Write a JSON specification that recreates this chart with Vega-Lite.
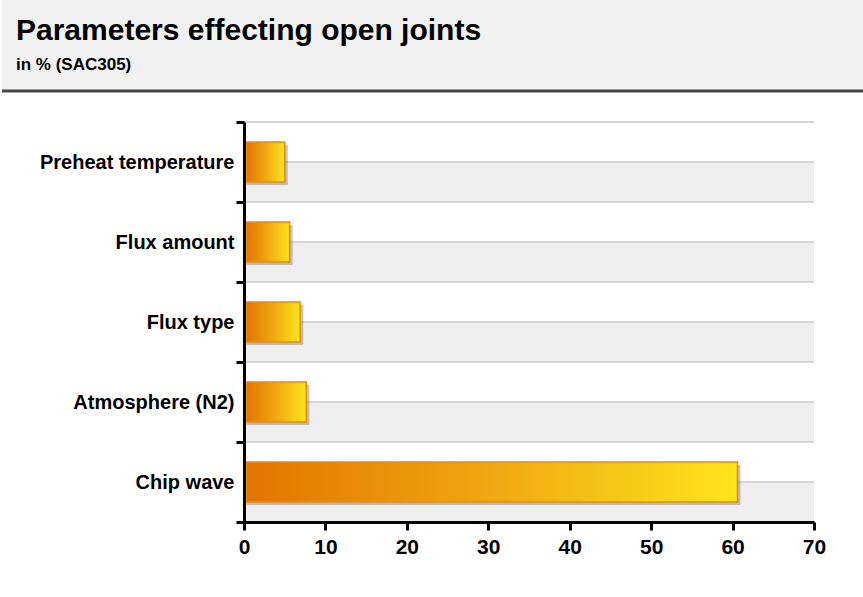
{
  "$schema": "https://vega.github.io/schema/vega-lite/v6.json",
  "background": "white",
  "padding": 0,
  "spacing": 19,
  "config": {
    "font": "Liberation Sans",
    "view": {"stroke": null}
  },
  "datasets": {
    "params": [
      {"parameter": "Preheat temperature", "percent": 5.0},
      {"parameter": "Flux amount", "percent": 5.6},
      {"parameter": "Flux type", "percent": 6.9},
      {"parameter": "Atmosphere (N2)", "percent": 7.65},
      {"parameter": "Chip wave", "percent": 60.6}
    ]
  },
  "vconcat": [
    {
      "width": 863,
      "height": 91,
      "view": {"fill": "#f1f1f1", "stroke": null},
      "title": {
        "text": "Parameters effecting open joints",
        "subtitle": "in % (SAC305)",
        "anchor": "start",
        "frame": "group",
        "orient": "top",
        "offset": -73,
        "dx": 14,
        "font": "Liberation Sans",
        "fontSize": 30,
        "fontWeight": "bold",
        "color": "#000000",
        "subtitleFont": "Liberation Sans",
        "subtitleFontSize": 17,
        "subtitleFontWeight": "bold",
        "subtitleColor": "#000000",
        "subtitlePadding": 11
      },
      "data": {"values": [{"edge": 0}]},
      "mark": {"type": "rule", "color": "#444444", "strokeWidth": 3},
      "encoding": {
        "y": {"field": "edge", "type": "quantitative", "scale": {"domain": [0, 1]}, "axis": null}
      }
    },
    {
      "width": 863,
      "height": 400,
      "data": {"name": "params"},
      "encoding": {
        "y": {
          "field": "parameter",
          "type": "nominal",
          "sort": null,
          "scale": {"paddingInner": 0, "paddingOuter": 0},
          "axis": {
            "title": null,
            "offset": -242,
            "tickBand": "extent",
            "grid": false,
            "domainColor": "#000000",
            "domainWidth": 3,
            "tickColor": "#000000",
            "tickWidth": 3,
            "tickSize": 8,
            "labelFont": "Liberation Sans",
            "labelFontSize": 20,
            "labelFontWeight": "bold",
            "labelColor": "#000000",
            "labelPadding": 2,
            "labelLimit": 0,
            "zindex": 1
          }
        }
      },
      "layer": [
        {
          "mark": {"type": "bar", "color": "#efefef", "height": {"band": 0.5}, "yOffset": 20},
          "encoding": {
            "x": {"datum": 0, "type": "quantitative", "scale": {"domain": [0, 70], "nice": false, "range": [242, 812]},
              "axis": {
                "title": null,
                "values": [0, 10, 20, 30, 40, 50, 60, 70],
                "grid": false,
                "labelFlush": false,
                "domainColor": "#000000",
                "domainWidth": 3,
                "tickColor": "#000000",
                "tickWidth": 3,
                "tickSize": 8,
                "labelFont": "Liberation Sans",
                "labelFontSize": 21,
                "labelFontWeight": "bold",
                "labelColor": "#000000",
                "labelPadding": 6,
                "zindex": 1
              }},
            "x2": {"datum": 70}
          }
        },
        {
          "mark": {"type": "rule", "color": "#d6d6d6", "strokeWidth": 2},
          "encoding": {
            "x": {"datum": 0, "type": "quantitative"},
            "x2": {"datum": 70}
          }
        },
        {
          "mark": {"type": "rule", "color": "#d6d6d6", "strokeWidth": 2, "yOffset": -40},
          "encoding": {
            "x": {"datum": 0, "type": "quantitative"},
            "x2": {"datum": 70}
          }
        },
        {
          "mark": {"type": "bar", "color": "#7a7a7a", "opacity": 0.45, "height": {"band": 0.5}, "xOffset": 3, "yOffset": 3},
          "encoding": {
            "x": {"field": "percent", "type": "quantitative"},
            "x2": {"datum": 0.3}
          }
        },
        {
          "mark": {
            "type": "bar",
            "height": {"band": 0.5},
            "stroke": "#ec8a0c",
            "strokeWidth": 1.5,
            "color": {
              "gradient": "linear",
              "x1": 0, "y1": 0, "x2": 1, "y2": 0,
              "stops": [
                {"offset": 0, "color": "#e27400"},
                {"offset": 0.5, "color": "#f0a812"},
                {"offset": 1, "color": "#fde51c"}
              ]
            }
          },
          "encoding": {
            "x": {"field": "percent", "type": "quantitative"},
            "x2": {"datum": 0.3}
          }
        }
      ]
    }
  ]
}
